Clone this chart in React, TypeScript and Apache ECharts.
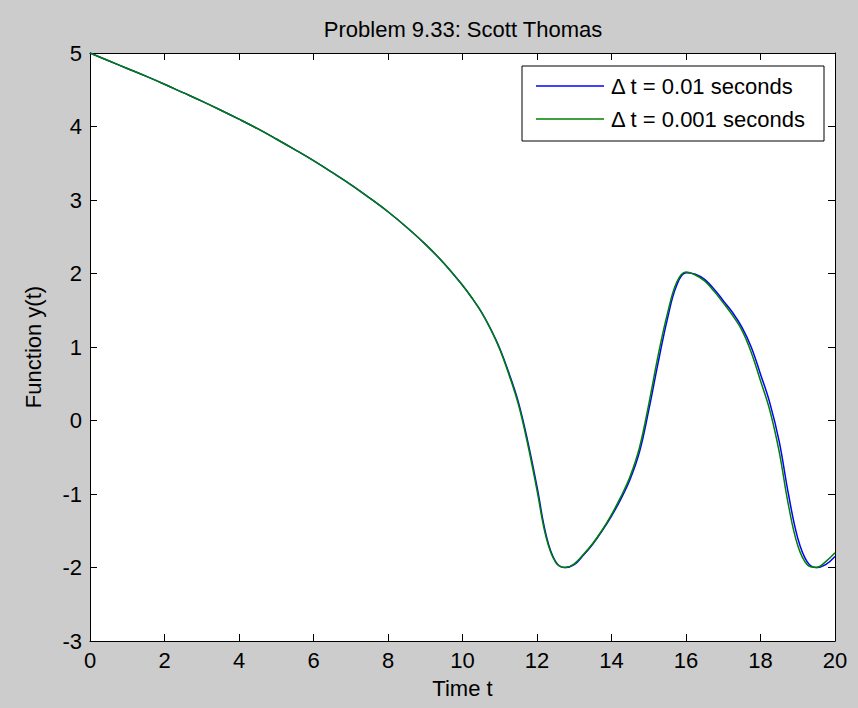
import React, { useEffect, useRef } from "react";
import * as echarts from "echarts";

const titleText = "Problem 9.33: Scott Thomas";
const xLabel = "Time t";
const yLabel = "Function y(t)";
const seriesNames = ["\u0394 t = 0.01 seconds", "\u0394 t = 0.001 seconds"];
const seriesColors = ["#0000ff", "#008000"];

const times = [
  0, 0.5, 1, 1.5, 2, 2.5, 3, 3.5, 4, 4.5, 5, 5.5, 6, 6.5, 7, 7.5, 8, 8.5, 9, 9.5,
  10, 10.25, 10.5, 10.75, 11, 11.25, 11.5, 11.75, 12, 12.25, 12.5, 12.75, 13, 13.25,
  13.5, 13.75, 14, 14.25, 14.5, 14.75, 15, 15.25, 15.5, 15.75, 16, 16.25, 16.5, 16.75,
  17, 17.25, 17.5, 17.75, 18, 18.25, 18.5, 18.75, 19, 19.25, 19.5, 19.75, 20,
];

const yFine = [
  5.0, 4.895, 4.79, 4.685, 4.575, 4.46, 4.345, 4.225, 4.1, 3.97, 3.83, 3.685, 3.535, 3.375,
  3.21, 3.03, 2.84, 2.63, 2.4, 2.14, 1.84, 1.67, 1.48, 1.25, 0.97, 0.62, 0.22, -0.32,
  -0.95, -1.6, -1.93, -2.0, -1.95, -1.82, -1.67, -1.49, -1.28, -1.04, -0.76, -0.37,
  0.22, 0.88, 1.45, 1.88, 2.02, 1.98, 1.9, 1.76, 1.6, 1.43, 1.23, 0.93, 0.54, 0.14,
  -0.42, -1.15, -1.7, -1.96, -2.0, -1.92, -1.8,
];

const yCoarse = [
  5.0, 4.895, 4.79, 4.685, 4.575, 4.46, 4.345, 4.225, 4.1, 3.97, 3.83, 3.685, 3.535, 3.375,
  3.21, 3.03, 2.84, 2.63, 2.4, 2.14, 1.84, 1.67, 1.48, 1.25, 0.98, 0.64, 0.25, -0.28,
  -0.9, -1.57, -1.92, -2.0, -1.96, -1.83, -1.68, -1.5, -1.3, -1.07, -0.8, -0.43, 0.14,
  0.78, 1.38, 1.84, 2.01, 1.99, 1.92, 1.79, 1.63, 1.47, 1.27, 1.0, 0.63, 0.24, -0.28,
  -1.0, -1.6, -1.92, -2.0, -1.96, -1.85,
];

const FONT = "'Liberation Sans', Arial, sans-serif";
const FS = 22;

export default function App() {
  const ref = useRef<HTMLDivElement>(null);
  useEffect(() => {
    document.body.style.margin = "0";
    const chart = echarts.init(ref.current!, null, { renderer: "svg" });
    const axisCommon = {
      axisLine: { show: true, onZero: false, lineStyle: { color: "#000", width: 1 } },
      axisTick: { show: true, inside: true, length: 7, lineStyle: { color: "#000" } },
      splitLine: { show: false },
    };
    const legendX = 522;
    const legendY = 66;
    const rowYs = [86, 119];
    chart.setOption({
      animation: false,
      backgroundColor: "#cccccc",
      textStyle: { fontFamily: FONT },
      title: {
        text: titleText,
        left: 458,
        top: 13,
        textAlign: "center",
        textStyle: { fontFamily: FONT, fontSize: FS, fontWeight: "normal", color: "#000" },
      },
      grid: { left: 90, top: 53, width: 745, height: 588, backgroundColor: "#fff", show: true, borderWidth: 0 },
      xAxis: [
        {
          type: "value",
          min: 0,
          max: 20,
          interval: 2,
          position: "bottom",
          ...axisCommon,
          axisLabel: { color: "#000", fontSize: FS, fontFamily: FONT, margin: 8 },
          name: xLabel,
          nameLocation: "middle",
          nameGap: 36,
          nameTextStyle: { color: "#000", fontSize: FS, fontFamily: FONT },
        },
        {
          type: "value",
          min: 0,
          max: 20,
          interval: 2,
          position: "top",
          ...axisCommon,
          axisLabel: { show: false },
        },
      ],
      yAxis: [
        {
          type: "value",
          min: -3,
          max: 5,
          interval: 1,
          position: "left",
          ...axisCommon,
          axisLabel: { color: "#000", fontSize: FS, fontFamily: FONT, margin: 8 },
          name: yLabel,
          nameLocation: "middle",
          nameGap: 46,
          nameTextStyle: { color: "#000", fontSize: FS, fontFamily: FONT },
        },
        {
          type: "value",
          min: -3,
          max: 5,
          interval: 1,
          position: "right",
          ...axisCommon,
          axisLabel: { show: false },
        },
      ],
      graphic: [
        {
          type: "rect",
          z: 100,
          shape: { x: legendX, y: legendY, width: 302, height: 75 },
          style: { fill: "#fff", stroke: "#000", lineWidth: 1 },
        },
        ...seriesNames.flatMap((name, i) => [
          {
            type: "line",
            z: 101,
            shape: { x1: 536, y1: rowYs[i], x2: 604, y2: rowYs[i] },
            style: { stroke: seriesColors[i], lineWidth: 1.5 },
          },
          {
            type: "text",
            z: 101,
            x: 611,
            y: rowYs[i],
            style: {
              text: name,
              fill: "#000",
              font: `${FS}px ${FONT}`,
              textVerticalAlign: "middle",
              verticalAlign: "middle",
            },
          },
        ]),
      ],
      series: [
        {
          name: seriesNames[0],
          type: "line",
          data: times.map((t, i) => [t, yCoarse[i]]),
          symbol: "none",
          smooth: 0.4,
          lineStyle: { color: seriesColors[0], width: 1.5 },
          itemStyle: { color: seriesColors[0] },
        },
        {
          name: seriesNames[1],
          type: "line",
          data: times.map((t, i) => [t, yFine[i]]),
          symbol: "none",
          smooth: 0.4,
          lineStyle: { color: seriesColors[1], width: 1.5 },
          itemStyle: { color: seriesColors[1] },
        },
      ],
    });
    return () => chart.dispose();
  }, []);
  return <div ref={ref} style={{ width: 858, height: 708 }} />;
}
